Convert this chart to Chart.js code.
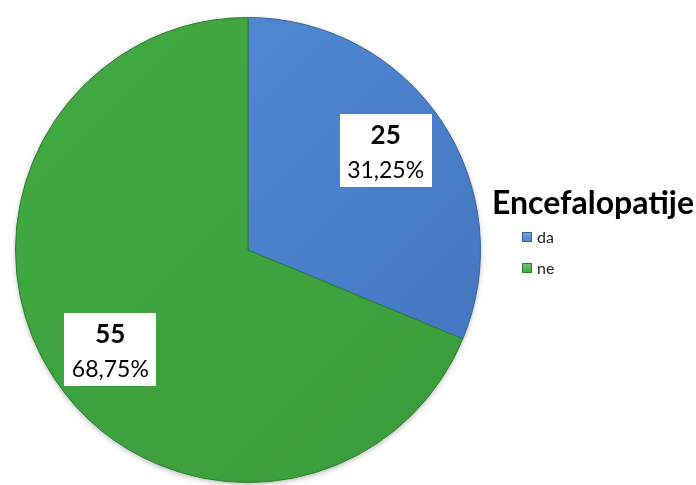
<!DOCTYPE html>
<html>
<head>
<meta charset="utf-8">
<script src="https://cdn.jsdelivr.net/npm/chart.js@4"></script>
<style>
  html, body { margin: 0; padding: 0; background: #fff; }
  #wrap { width: 696px; height: 485px; position: relative; }
</style>
</head>
<body>
<div id="wrap"><canvas id="pie"></canvas></div>
<script>
// podaci
var naslov = "Encefalopatije";
var kategorije = ["da", "ne"];
var vrijednosti = [25, 55];
var boje = ["#4a80cc", "#3da33d"];
var bojeRub = ["#35609e", "#2c7d2c"];

var ukupno = vrijednosti.reduce(function (a, b) { return a + b; }, 0);

function postotak(v) {
  return (v / ukupno * 100).toFixed(2).replace(".", ",") + "%";
}

// gradijent za svaki isječak
function punjenje(context) {
  var chart = context.chart;
  var area = chart.chartArea;
  if (!area) return boje[context.dataIndex];
  var ctx = chart.ctx;
  var i = context.dataIndex;
  var g = ctx.createLinearGradient(area.left, area.top, area.right, area.bottom);
  if (i === 0) {
    g.addColorStop(0, "#5590d8");
    g.addColorStop(0.5, "#4a80cc");
    g.addColorStop(1, "#4172bb");
  } else {
    g.addColorStop(0, "#42aa42");
    g.addColorStop(1, "#3a9c3b");
  }
  return g;
}

// sjena ispod kruga
var sjena = {
  id: "sjena",
  beforeDatasetsDraw: function (chart) {
    var ctx = chart.ctx;
    var arc = chart.getDatasetMeta(0).data[0];
    ctx.save();
    ctx.shadowColor = "rgba(0,0,0,0.35)";
    ctx.shadowBlur = 6;
    ctx.shadowOffsetY = 2;
    ctx.beginPath();
    ctx.arc(arc.x, arc.y, arc.outerRadius - 1, 0, Math.PI * 2);
    ctx.fillStyle = "#3da33d";
    ctx.fill();
    ctx.restore();
  }
};

// oznake vrijednosti u bijelim okvirima
var oznake = {
  id: "oznake",
  afterDatasetsDraw: function (chart) {
    var ctx = chart.ctx;
    var meta = chart.getDatasetMeta(0);
    meta.data.forEach(function (arc, i) {
      var mid = (arc.startAngle + arc.endAngle) / 2;
      var x = arc.x + Math.cos(mid) * arc.outerRadius * 0.712;
      var y = arc.y + Math.sin(mid) * arc.outerRadius * 0.768;
      var w = 92, h = 73;
      ctx.save();
      ctx.fillStyle = "#ffffff";
      ctx.fillRect(Math.round(x - w / 2), Math.round(y - h / 2), w, h);
      ctx.fillStyle = "#000";
      ctx.textAlign = "center";
      ctx.textBaseline = "middle";
      ctx.font = "bold 26px Lato, 'Open Sans', sans-serif";
      ctx.fillText(String(vrijednosti[i]), x, y - 15);
      ctx.font = "23px Lato, 'Open Sans', sans-serif";
      ctx.fillText(postotak(vrijednosti[i]), x, y + 20);
      ctx.restore();
    });
  }
};

// legenda s naslovom desno
var legenda = {
  id: "legenda",
  afterDraw: function (chart) {
    var ctx = chart.ctx;
    ctx.save();
    ctx.fillStyle = "#000";
    ctx.textBaseline = "middle";
    ctx.font = "bold 32px Lato, 'Open Sans', sans-serif";
    ctx.fillText(naslov, 492, 204);
    ctx.font = "16px Lato, 'Open Sans', sans-serif";
    kategorije.forEach(function (k, i) {
      var y = 237 + i * 31;
      var g = ctx.createLinearGradient(0, y - 5, 0, y + 5);
      g.addColorStop(0, i === 0 ? "#7aa8e6" : "#6cc86c");
      g.addColorStop(1, boje[i]);
      ctx.fillStyle = g;
      ctx.fillRect(522, y - 5, 10, 10);
      ctx.strokeStyle = bojeRub[i];
      ctx.lineWidth = 1;
      ctx.strokeRect(522.5, y - 4.5, 9, 9);
      ctx.fillStyle = "#222";
      ctx.fillText(k, 537, y + 1);
    });
    ctx.restore();
  }
};

var chart = new Chart(document.getElementById("pie").getContext("2d"), {
  type: "pie",
  data: {
    labels: kategorije,
    datasets: [
      {
        data: vrijednosti,
        backgroundColor: punjenje,
        borderColor: bojeRub,
        borderWidth: 1,
      },
    ],
  },
  options: {
    responsive: true,
    maintainAspectRatio: false,
    animation: false,
    layout: {
      padding: { left: 15, right: 215, top: 17, bottom: 2 },
    },
    plugins: {
      legend: { display: false },
      tooltip: { enabled: false },
    },
  },
  plugins: [sjena, oznake, legenda],
});
</script>
</body>
</html>
